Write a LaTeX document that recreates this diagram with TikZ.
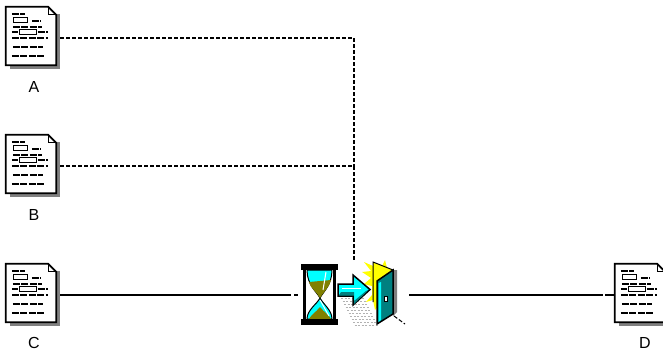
\documentclass[tikz,border=0pt]{standalone}
\usepackage{fontspec}
\setmainfont{Liberation Sans}
\usepackage{xcolor}
\usetikzlibrary{calc,positioning}
\definecolor{sandfill}{RGB}{128,128,0}
\definecolor{glassfill}{RGB}{0,255,255}
\definecolor{doorfill}{RGB}{0,128,128}
\definecolor{flashfill}{RGB}{255,255,0}
\newcommand{\docicon}[1]{
  % shadow, sheet and folded corner inside the named node
  \fill [gray] ($(#1.north east)+(-4,7)$) rectangle ($(#1.south east)+(0,0)$);
  \fill [gray] ($(#1.south west)+(4,-5)$) rectangle ($(#1.south east)+(0,0)$);
  \filldraw [pageline,fill=white] (#1.north west) -- ($(#1.north east)+(-12,0)$) -- ($(#1.north east)+(-4,8)$) -- ($(#1.south east)+(-4,-4)$) -- ($(#1.south west)+(0,-4)$) -- cycle;
  \draw [pageline,line width=1pt] ($(#1.north east)+(-12,0)$) -- ($(#1.north east)+(-12,8)$) -- ($(#1.north east)+(-4,8)$);
  \draw [textline] ($(#1.north west)+(6,7)$) -- +(13,0);
  \draw [pageline,line width=1.3pt] ($(#1.north west)+(8,11)$) rectangle +(14,5);
  \draw [textline] ($(#1.north west)+(26,14)$) -- +(9,0);
  \draw [textline] ($(#1.north west)+(7,20)$) -- +(29,0);
  \draw [textline] ($(#1.north west)+(6,25)$) -- +(6,0);
  \draw [pageline,line width=1.3pt] ($(#1.north west)+(14,23)$) rectangle +(17,5);
  \draw [textline] ($(#1.north west)+(32,25)$) -- +(10,0);
  \draw [textline] ($(#1.north west)+(6,31)$) -- +(36,0);
  \draw [textline] ($(#1.north west)+(7,40)$) -- +(30,0);
  \draw [textline] ($(#1.north west)+(6,49)$) -- +(33,0);
}
\begin{document}
\begin{tikzpicture}
  [
    x=1pt,y=-1pt,
    sheet/.style={rectangle,inner sep=0pt,minimum width=54pt,minimum height=62pt},
    pageline/.style={line width=1.8pt,line join=miter},
    textline/.style={line width=1.6pt,dash pattern=on 7pt off 1.5pt},
    doclabel/.style={inner sep=0pt,font=\fontsize{16}{16}\selectfont},
    dashline/.style={line width=1.1pt,dash pattern=on 3.5pt off 2.5pt},
    solidline/.style={line width=1.1pt}
  ]
  \useasboundingbox (0,0) rectangle (663,353);
  \node[sheet] (docA) at (33,38) {};
  \node[sheet] (docB) at (33,166) {};
  \node[sheet] (docC) at (33,295) {};
  \node[sheet] (docD) at (642,295) {};
  \node[doclabel] (labelA) at (34,87) {A};
  \node[doclabel] (labelB) at (34,215) {B};
  \node[doclabel] (labelC) at (34,343) {C};
  \node[doclabel] (labelD) at (645,343) {D};
  \node[rectangle,inner sep=0pt,minimum width=111pt,minimum height=66pt] (waitexit) at (353.5,295) {};
  \coordinate (joinAB) at (354,166);

  \draw [dashline] (docA.east) -| (joinAB);
  \draw [dashline] (docB.east) -- (joinAB);
  \draw [dashline] (joinAB) -- (joinAB |- waitexit.north);
  \draw [solidline,dash pattern=on 231pt off 3pt on 7pt] (docC.east) -- (waitexit.west);
  \draw [solidline,dash pattern=on 194pt off 2pt on 10pt] (waitexit.east) -- (docD.west);

  \docicon{docA}
  \docicon{docB}
  \docicon{docC}
  \docicon{docD}

  % hourglass
  \fill [white] (300,262) rectangle (340,327);
  \filldraw [fill=glassfill,line width=1pt] (307,270) -- (332,270) .. controls (332,285) and (323,292) .. (320,298) .. controls (323,304) and (332,310) .. (332,319) -- (307,319) .. controls (307,310) and (317,304) .. (320,298) .. controls (317,292) and (307,285) .. (307,270) -- cycle;
  \fill [sandfill] (309,282) -- (331,280) .. controls (330,287) and (323,292) .. (320,298) .. controls (317,292) and (310,288) .. (309,282) -- cycle;
  \fill [sandfill] (320,307) .. controls (324,312) and (329,315) .. (331,319) -- (309,319) .. controls (311,315) and (316,312) .. (320,307) -- cycle;
  \draw [white,line width=1pt] (326,272) -- (323,290) (320,300) -- (329,316);
  \fill (301,264) rectangle (338,270);
  \fill (301,319) rectangle (338,325);
  \draw [line width=2.4pt] (304.5,270) -- (304.5,319);
  \draw [line width=2.4pt] (334.5,270) -- (334.5,319);
  % hatched shadow of the door
  \foreach \hatchy in {298,301,...,325}
    \draw [gray!60,line width=1pt,dash pattern=on 2pt off 1.5pt] (341+\hatchy/2-149,\hatchy) -- (365+\hatchy/2-149,\hatchy);
  % flash and door
  \fill [flashfill] (373,262) -- (393,270) -- (377,281) -- (377,305) -- (373,300) -- cycle;
  \fill [flashfill] (373,266) -- (364,262) -- (371,271) -- (362,272) -- (371,278) -- (364,284) -- (372,286) -- (372,295) -- (366,302) -- (373,300) -- (375,310) -- (379,305) -- cycle;
  \fill [flashfill] (382,266) -- (385,260) -- (387,268) -- cycle;
  \fill [gray] (393,270) -- (397,270) -- (397,312) -- (393,316) -- cycle;
  \draw [line width=1pt] (373,302) -- (373,262) -- (393,270);
  \filldraw [fill=doorfill,line width=1.5pt] (377,281) -- (393,270) -- (393,314) -- (377,324) -- cycle;
  \fill [glassfill] (378.5,283) -- (381,282) -- (381,320) -- (378.5,322) -- cycle;
  \filldraw [fill=white,line width=1pt] (384,296) rectangle (387,301);
  \draw [line width=1pt,dash pattern=on 4pt off 2pt] (394,316) -- (405,324);
  % arrow
  \filldraw [fill=glassfill,line width=1.5pt] (338,284) -- (353,284) -- (353,275) -- (370,289.5) -- (353,305) -- (353,296) -- (338,296) -- cycle;
  \fill [doorfill] (341,292) -- (354,292) -- (354,301) -- (366,291) -- (369,289.5) -- (354,304) -- (354,295) -- (339,295) -- cycle;
  \draw [white,line width=1pt] (342,288) -- (361,288);
\end{tikzpicture}
\end{document}
